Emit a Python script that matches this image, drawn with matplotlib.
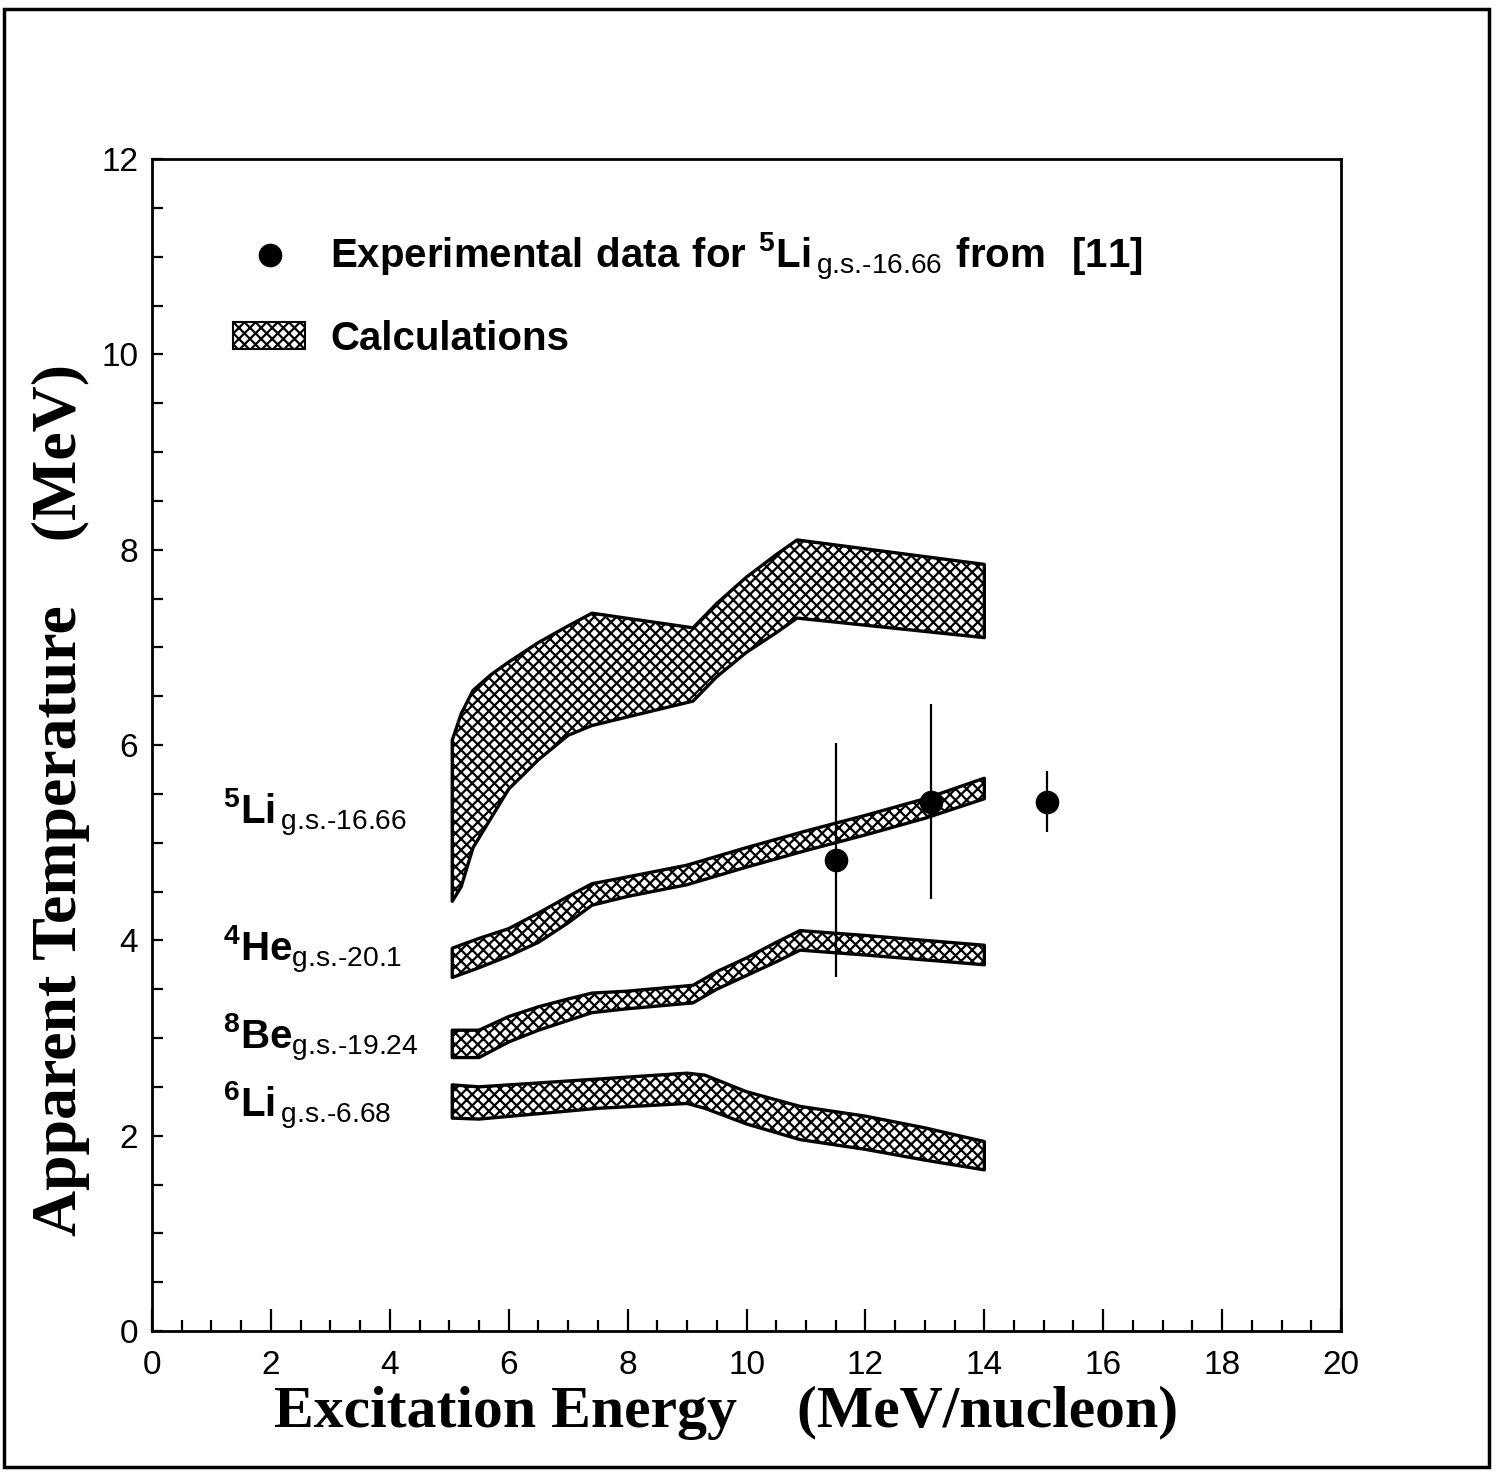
import numpy as np
import matplotlib
matplotlib.use('Agg')
import matplotlib.pyplot as plt
from matplotlib.patches import Rectangle

plt.rcParams['hatch.linewidth'] = 1.6
plt.rcParams['mathtext.fontset'] = 'custom'
plt.rcParams['mathtext.rm'] = 'Liberation Sans'
plt.rcParams['mathtext.bf'] = 'Liberation Sans:bold'

# calculation bands (x, upper, lower)
li5_x = [5.05, 5.2, 5.4, 5.7, 6.0, 6.5, 7.0, 7.4, 9.1, 9.5, 10.0, 10.5, 10.85, 14.0]
li5_hi = [6.05, 6.32, 6.56, 6.72, 6.85, 7.05, 7.22, 7.35, 7.2, 7.45, 7.72, 7.95, 8.1, 7.85]
li5_lo = [4.4, 4.55, 4.95, 5.25, 5.55, 5.85, 6.1, 6.2, 6.45, 6.7, 6.95, 7.15, 7.3, 7.1]

he_x = [5.05, 5.5, 6.0, 6.5, 7.0, 7.4, 8.0, 9.0, 10.0, 11.0, 12.0, 13.0, 14.0]
he_hi = [3.92, 4.02, 4.12, 4.28, 4.45, 4.58, 4.65, 4.77, 4.95, 5.12, 5.28, 5.45, 5.66]
he_lo = [3.62, 3.72, 3.84, 3.98, 4.18, 4.36, 4.45, 4.57, 4.75, 4.92, 5.08, 5.25, 5.45]

be_x = [5.05, 5.5, 6.0, 6.5, 7.0, 7.4, 8.0, 9.1, 9.5, 10.0, 10.5, 10.9, 12.0, 13.0, 14.0]
be_hi = [3.08, 3.08, 3.22, 3.32, 3.40, 3.46, 3.48, 3.54, 3.68, 3.82, 3.98, 4.10, 4.05, 4.0, 3.95]
be_lo = [2.80, 2.80, 2.96, 3.08, 3.18, 3.26, 3.30, 3.36, 3.50, 3.64, 3.78, 3.90, 3.85, 3.80, 3.75]

li6_x = [5.05, 5.5, 7.5, 9.0, 9.3, 10.0, 10.9, 12.0, 13.0, 14.0]
li6_hi = [2.52, 2.50, 2.58, 2.64, 2.62, 2.45, 2.30, 2.2, 2.08, 1.94]
li6_lo = [2.18, 2.17, 2.28, 2.33, 2.28, 2.12, 1.96, 1.86, 1.75, 1.65]

# experimental points
exp_x = [11.5, 13.1, 15.05]
exp_y = [4.82, 5.42, 5.42]
exp_err = [1.2, 1.0, 0.31]

band_labels = [r'$^{\mathbf{5}}\mathbf{Li}_{\,\text{g.s.-16.66}}$',
               r'$^{\mathbf{4}}\mathbf{He}_{\text{g.s.-20.1}}$',
               r'$^{\mathbf{8}}\mathbf{Be}_{\text{g.s.-19.24}}$',
               r'$^{\mathbf{6}}\mathbf{Li}_{\,\text{g.s.-6.68}}$']
label_y = [5.3, 3.9, 3.0, 2.3]

fig = plt.figure(figsize=(14.98, 14.73), dpi=100)
ax = fig.add_axes([0.1015, 0.0964, 0.7937, 0.7956])

for bx, hi, lo in [(li5_x, li5_hi, li5_lo), (he_x, he_hi, he_lo),
                   (be_x, be_hi, be_lo), (li6_x, li6_hi, li6_lo)]:
    ax.fill_between(bx, lo, hi, facecolor='white', edgecolor='black',
                    hatch='xxx', linewidth=2.4)

ax.errorbar(exp_x, exp_y, yerr=exp_err, fmt='o', color='black',
            markersize=16, elinewidth=1.6, capsize=0)

for lab, ly in zip(band_labels, label_y):
    ax.text(1.2, ly, lab, fontsize=29, va='center', ha='left')

# legend drawn by hand
ax.plot([1.98], [11.02], 'o', color='black', markersize=16)
ax.text(3.0, 11.0, r'$\mathbf{Experimental\ data\ for\ }^{\mathbf{5}}\mathbf{Li}_{\,\text{g.s.-16.66}}\mathbf{\ from\ \ [11]}$',
        fontsize=29, va='center', ha='left')
ax.add_patch(Rectangle((1.36, 10.06), 1.21, 0.27, facecolor='white',
                       edgecolor='black', hatch='xxx', linewidth=1.5))
ax.text(3.0, 10.16, 'Calculations', fontsize=29, fontweight='bold',
        family='Liberation Sans', va='center', ha='left')

ax.set_xlim(0, 20)
ax.set_ylim(0, 12)
ax.set_xticks(np.arange(0, 21, 2))
ax.set_xticks(np.arange(0, 20.01, 0.5), minor=True)
ax.set_yticks(np.arange(0, 13, 2))
ax.set_yticks(np.arange(0, 12.01, 0.5), minor=True)
ax.tick_params(axis='x', which='major', direction='in', length=16, width=1.6,
               labelsize=24, pad=14)
ax.tick_params(axis='x', which='minor', direction='in', length=8, width=1.6)
ax.tick_params(axis='y', which='both', direction='in', length=8, width=1.6,
               labelsize=24, pad=10)
for lab in ax.get_xticklabels() + ax.get_yticklabels():
    lab.set_family(['Liberation Sans Narrow', 'Liberation Sans'])
for sp in ax.spines.values():
    sp.set_linewidth(2)

ax.set_xlabel('Excitation Energy    (MeV/nucleon)', fontsize=43,
              fontweight='bold', family='Liberation Serif')
ax.set_ylabel('Apparent Temperature    (MeV)', fontsize=46,
              fontweight='bold', family='Liberation Serif')
ax.xaxis.set_label_coords(0.483, -0.047)
ax.yaxis.set_label_coords(-0.052, 0.453)

fig.add_artist(Rectangle((0.003, 0.004), 0.991, 0.99, transform=fig.transFigure,
                         fill=False, edgecolor='black', linewidth=2.5))

fig.savefig('out.png', dpi=100)
